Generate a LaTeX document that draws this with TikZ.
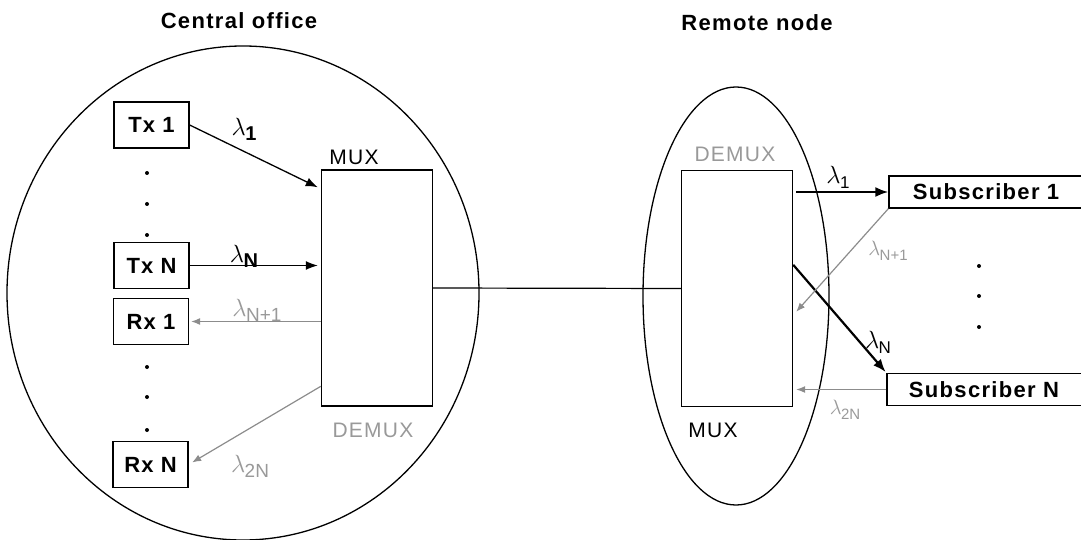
\documentclass[tikz,border=0pt]{standalone}
\usepackage{fontspec}
\setmainfont{Liberation Sans}
\usetikzlibrary{arrows.meta,calc}
\definecolor{linegray}{gray}{0.55}
\definecolor{textgray}{gray}{0.6}
% wavelength label: lambda with a lowered index
\newcommand{\wavelbl}[2]{$\lambda$\kern-0.5pt\raisebox{-5pt}{\fontsize{#1}{#1}\selectfont #2}}
\begin{document}
\begin{tikzpicture}[x=1pt,y=-1pt,
  unitbox/.style={draw, line width=1.3pt, minimum width=75pt, minimum height=46pt, inner sep=0pt,
    font=\fontsize{22}{24}\selectfont\bfseries\addfontfeature{LetterSpace=5}},
  subbox/.style={draw, line width=1.3pt, minimum width=197pt, minimum height=32pt, inner sep=0pt,
    font=\fontsize{22}{24}\selectfont\bfseries\addfontfeature{LetterSpace=6}},
  muxbox/.style={draw, line width=1.4pt, minimum width=111pt, minimum height=236pt, inner sep=0pt},
  heading/.style={font=\fontsize{22}{24}\selectfont\bfseries\addfontfeature{LetterSpace=6}},
  muxlbl/.style={font=\fontsize{21}{24}\selectfont\addfontfeature{LetterSpace=6}},
  wl/.style={font=\fontsize{26}{28}\selectfont, inner sep=0pt},
  fwd/.style={-{Latex[length=12pt,width=9pt]}, line width=1.3pt},
  fwdbold/.style={-{Latex[length=13pt,width=10pt]}, line width=2.2pt},
  bwd/.style={-{Latex[length=9pt,width=7pt]}, linegray, line width=1.2pt},
  dot/.style={circle, fill, inner sep=0pt, minimum size=4pt}
]
\useasboundingbox (0,0) rectangle (1081,540);
\clip (0,0) rectangle (1081,540);

% site outlines
\draw[line width=1.3pt] (243,293) ellipse [x radius=236, y radius=247];
\draw[line width=1.3pt] (736,296) ellipse [x radius=93, y radius=209];

% headings
\node[heading] (cotitle) at (239,21) {Central office};
\node[heading] (rntitle) at (757,23) {Remote node};

% central office units
\node[unitbox] (tx1) at (151.5,125) {Tx 1};
\node[unitbox] (txn) at (151.5,265.5) {Tx N};
\node[unitbox] (rx1) at (151,321.5) {Rx 1};
\node[unitbox] (rxn) at (150.5,464.5) {Rx N};
\foreach \y [count=\i] in {173,204,235} \node[dot] (td\i) at (147,\y) {};
\foreach \y [count=\i] in {367,397,430} \node[dot] (rd\i) at (147,\y) {};

% multiplexer boxes
\node[muxbox] (comux) at (377,288) {};
\node[muxbox] (rbox) at (737,288.5) {};
\node[muxlbl] (comuxlbl) at (354,157) {MUX};
\node[muxlbl, textgray] (codemuxlbl) at (373,430) {DEMUX};
\node[muxlbl, textgray] (rdemuxlbl) at (735,154) {DEMUX};
\node[muxlbl] (rmuxlbl) at (713,430) {MUX};

% subscribers
\node[subbox] (sub1) at (987.5,192) {\hspace*{-3pt}Subscriber 1};
\node[subbox] (subn) at (985.5,389.5) {\hspace*{-3pt}Subscriber N};
\foreach \y [count=\i] in {266,296,327} \node[dot] (sd\i) at (979,\y) {};

% feeder fibre
\draw[line width=1.2pt] (comux.east) -- (rbox.west);

% central office connections
\draw[fwd] (tx1.east) -- ($(comux.north west)+(-3,18)$);
\draw[fwd, shorten >=3pt] (txn.east) -- (comux.west |- txn.east);
\draw[bwd, shorten >=2pt] (comux.west |- rx1.east) -- (rx1.east);
\draw[bwd, shorten >=4pt] ($(comux.north west)+(0,217)$) -- (rxn.east);

\node[wl] (l1) at (244,129) {\wavelbl{20}{\bfseries 1}};
\node[wl] (lN) at (244,256) {\wavelbl{20}{\bfseries N}};
\node[wl, textgray] (lN1) at (257,310) {\wavelbl{19}{N+1}};
\node[wl, textgray] (l2N) at (250,466) {\wavelbl{19}{2N}};

% remote node connections
\draw[fwdbold, shorten <=3pt] (rbox.east |- sub1.west) -- (sub1.west);
\draw[fwdbold, shorten >=1pt] ($(rbox.north east)+(0,95)$) -- (subn.north west);
\draw[bwd] (sub1.south west) -- ($(rbox.north east)+(3,142)$);
\draw[bwd, shorten >=3pt] (subn.west) -- (rbox.east |- subn.west);

\node[wl, font=\fontsize{23}{26}\selectfont] (r1) at (838,177) {\wavelbl{17}{1}};
\node[wl, font=\fontsize{23}{26}\selectfont] (rN) at (878,342) {\wavelbl{17}{N}};
\node[wl, textgray, font=\fontsize{20}{22}\selectfont] (rN1) at (888,251) {\wavelbl{15}{N+1}};
\node[wl, textgray, font=\fontsize{20}{22}\selectfont] (r2N) at (845,410) {\wavelbl{15}{2N}};
\end{tikzpicture}
\end{document}
